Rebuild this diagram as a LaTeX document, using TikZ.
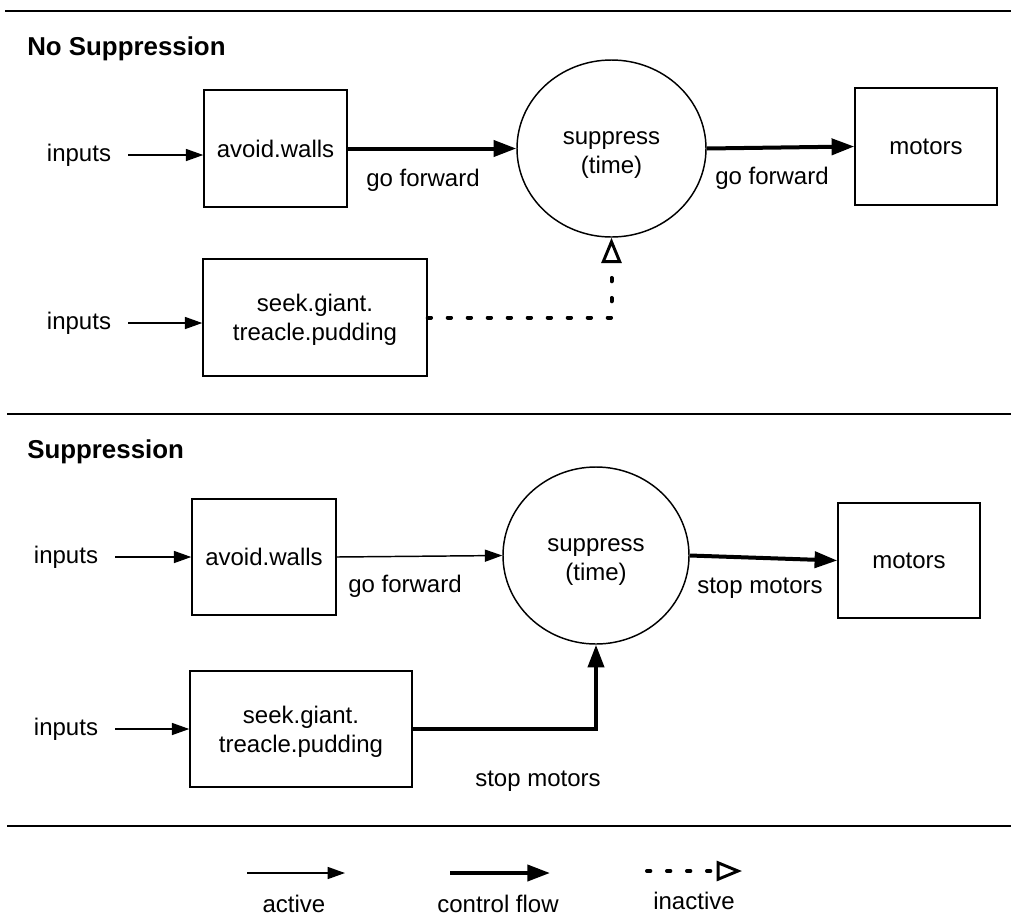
\documentclass[tikz,border=0pt]{standalone}
\usepackage{fontspec}
\setmainfont{Liberation Sans}
\usepackage{tikz}
\usetikzlibrary{arrows.meta,shapes.geometric,positioning}

\begin{document}
\begin{tikzpicture}[x=0.75pt,y=0.75pt,yscale=-1,xscale=1,
  every node/.style={font=\fontsize{18}{21.75}\selectfont, align=center, inner sep=0pt},
  title/.style={font=\fontsize{19.4}{23}\selectfont\bfseries, anchor=west},
  inlbl/.style={inner xsep=12.75pt},
  modbox/.style={draw, line width=1.1pt, minimum height=87.75pt},
  supcirc/.style={draw, ellipse, line width=1.1pt, minimum width=141.75pt, minimum height=132.75pt},
  active/.style={line width=1.1pt, -{Triangle[length=13pt,width=9pt]}},
  ctrl/.style={line width=3pt, -{Triangle[length=17pt,width=12pt]}},
  inactive/.style={line width=3pt, line cap=round, dash pattern=on 2.5pt off 12.5pt, -{Triangle[open,length=19pt,width=15pt,line width=2.2pt]}},
  rule/.style={line width=1.5pt}]
\useasboundingbox (0,0) rectangle (1011,915); %set diagram frame to 1011 x 915

%Straight Lines: rules
\draw[rule] (5,11) -- (1011,11) ;
\draw[rule] (7,414) -- (1011,414) ;
\draw[rule] (7,826) -- (1011,826) ;

%No Suppression
\node[title] (ttlNo) at (27,49) {No Suppression};
\node[inlbl] (inA) at (79,155) {inputs};
\node[modbox, minimum width=107.25pt] (wallsA) at (275.5,148.5) {avoid.walls};
\node[modbox, minimum width=168pt] (seekA) at (315,317.5) {};
\node (seekAtxt) at (315,320) {seek.giant.\\treacle.pudding};
\node[supcirc] (supA) at (611.5,148.5) {};
\node (supAtxt) at (611.5,155) {suppress\\(time)};
\node[modbox, minimum width=106.5pt] (motA) at (926,146.5) {motors};
\node[inlbl] (inB) at (79,323) {inputs};
\node (fwdA) at (423,180) {go forward};
\node (fwdB) at (772,178) {go forward};

\draw[active] (inA.east) -- (inA.east -| wallsA.west) ;
\draw[ctrl] (wallsA.east) -- (supA.west) ;
\draw[ctrl] (supA.east) -- (motA.west) ;
\draw[active] (inB.east) -- (inB.east -| seekA.west) ;
\draw[inactive] (seekA.east) -| (supA.south) ;

%Suppression
\node[title] (ttlSup) at (27,452) {Suppression};
\node[inlbl] (inC) at (66,557) {inputs};
\node[modbox, minimum width=108pt, minimum height=87pt] (wallsB) at (264,557) {avoid.walls};
\node[supcirc, minimum width=139.5pt] (supB) at (596,555.5) {};
\node (supBtxt) at (596,562) {suppress\\(time)};
\node[modbox, minimum width=106.5pt, minimum height=86.25pt] (motB) at (909,560.5) {motors};
\node[modbox, minimum width=166.5pt, minimum height=87pt] (seekB) at (301,729) {};
\node (seekBtxt) at (301,731.5) {seek.giant.\\treacle.pudding};
\node[inlbl] (inD) at (66,729) {inputs};
\node (fwdC) at (405,586) {go forward};
\node (stopA) at (760,588) {stop motors};
\node (stopB) at (538,781) {stop motors};

\draw[active] (inC.east) -- (inC.east -| wallsB.west) ;
\draw[active] (wallsB.east) -- (supB.west) ;
\draw[ctrl] (supB.east) -- (motB.west) ;
\draw[active] (inD.east) -- (inD.east -| seekB.west) ;
\draw[ctrl] (seekB.east) -| (supB.south) ;

%Legend
\coordinate (actS) at (247,873) ;
\coordinate (actE) at (345,873) ;
\coordinate (ctlS) at (450,873) ;
\coordinate (ctlE) at (550,873) ;
\coordinate (inaS) at (647,871) ;
\coordinate (inaE) at (742,871) ;
\draw[active] (actS) -- (actE) ;
\draw[ctrl] (ctlS) -- (ctlE) ;
\draw[inactive] (inaS) -- (inaE) ;
\node[anchor=base] (actT) at (294,912) {active};
\node[anchor=base] (ctlT) at (498,912) {control flow};
\node[anchor=base] (inaT) at (694,909) {inactive};

\end{tikzpicture}
\end{document}
